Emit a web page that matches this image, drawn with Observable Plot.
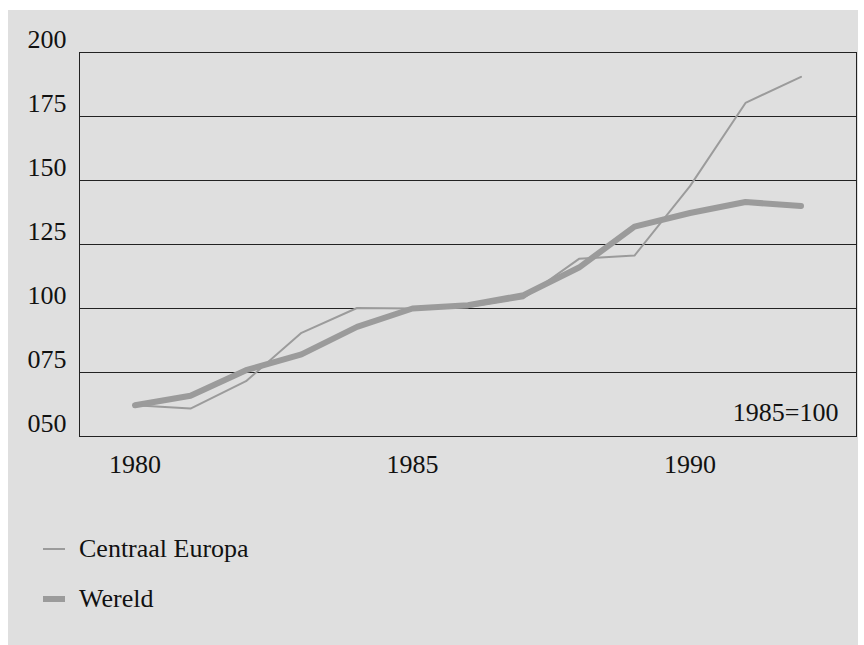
<!DOCTYPE html>
<html>
<head>
<meta charset="utf-8">
<script src="https://cdn.jsdelivr.net/npm/d3@7"></script>
<script src="https://cdn.jsdelivr.net/npm/@observablehq/plot@0.6"></script>
<style>
  html, body { margin: 0; padding: 0; background: #ffffff; }
  body { position: relative; width: 864px; height: 645px; overflow: hidden;
         font-family: "Liberation Serif", Tinos, "Times New Roman", Times, "DejaVu Serif", serif; }
  #panel { position: absolute; left: 8px; top: 10px; width: 850px; height: 635px; background: #dfdfdf; }
  #chart { position: absolute; left: 0; top: 0; }
  #chart text { font-family: "Liberation Serif", Tinos, "Times New Roman", Times, "DejaVu Serif", serif; }
  .legend-item { position: absolute; left: 43px; font-size: 26px; color: #111; display: flex; align-items: center; }
  .legend-item svg { margin-right: 14px; }
</style>
</head>
<body>
<div id="panel"></div>
<div id="chart"></div>
<div class="legend-item" id="lg1" style="top:534px"></div>
<div class="legend-item" id="lg2" style="top:584px"></div>
<script>
const years = [1980, 1981, 1982, 1983, 1984, 1985, 1986, 1987, 1988, 1989, 1990, 1991, 1992];
const centraalEuropa = [62.2, 60.9, 71.6, 90.5, 100.2, 100, 100.5, 104, 119.4, 120.7, 147.8, 180.3, 190.5];
const wereld = [62.2, 65.9, 75.9, 82.1, 92.8, 100, 101.3, 105.2, 116, 132, 137.3, 141.6, 140];
const seriesNames = ["Centraal Europa", "Wereld"];
const yTicks = [50, 75, 100, 125, 150, 175, 200];
const xTicks = [1980, 1985, 1990];
const baseLabel = "1985=100";

const lineColor = "#9b9b9b";
const fontFamily = '"Liberation Serif", Tinos, "Times New Roman", Times, "DejaVu Serif", serif';

const rows = [];
years.forEach((y, i) => {
  rows.push({year: y, value: centraalEuropa[i], series: seriesNames[0]});
  rows.push({year: y, value: wereld[i], series: seriesNames[1]});
});

const chart = Plot.plot({
  width: 864,
  height: 500,
  marginLeft: 79,
  marginRight: 8,
  marginTop: 52,
  marginBottom: 64,
  style: {background: "transparent", fontFamily, fontSize: "26px", color: "#111"},
  x: {domain: [1979, 1993]},
  y: {domain: [50, 200]},
  marks: [
    Plot.ruleY(yTicks, {stroke: "#222", strokeWidth: 1}),
    Plot.frame({stroke: "#222", strokeWidth: 1}),
    Plot.line(rows.filter(d => d.series === seriesNames[1]), {x: "year", y: "value", stroke: lineColor, strokeWidth: 6, strokeLinejoin: "miter"}),
    Plot.line(rows.filter(d => d.series === seriesNames[0]), {x: "year", y: "value", stroke: lineColor, strokeWidth: 2}),
    Plot.axisY({ticks: yTicks, tickSize: 0, tickPadding: 13, dy: -13, tickFormat: d => String(d).padStart(3, "0"), fontSize: 26, fill: "#111", label: null}),
    Plot.axisX({ticks: xTicks, tickSize: 0, tickPadding: 18, tickFormat: d => String(d), fontSize: 26, fill: "#111", label: null}),
    Plot.text([baseLabel], {text: d => d, frameAnchor: "bottom-right", textAnchor: "end", dx: -18, dy: -16, fontSize: 26, fill: "#111", lineAnchor: "bottom"})
  ]
});
document.getElementById("chart").appendChild(chart);

function swatch(w) {
  return `<svg width="22" height="10"><line x1="0" x2="22" y1="5" y2="5" stroke="${lineColor}" stroke-width="${w}"/></svg>`;
}
document.getElementById("lg1").innerHTML = swatch(2) + `<span>${seriesNames[0]}</span>`;
document.getElementById("lg2").innerHTML = swatch(6) + `<span>${seriesNames[1]}</span>`;
</script>
</body>
</html>
